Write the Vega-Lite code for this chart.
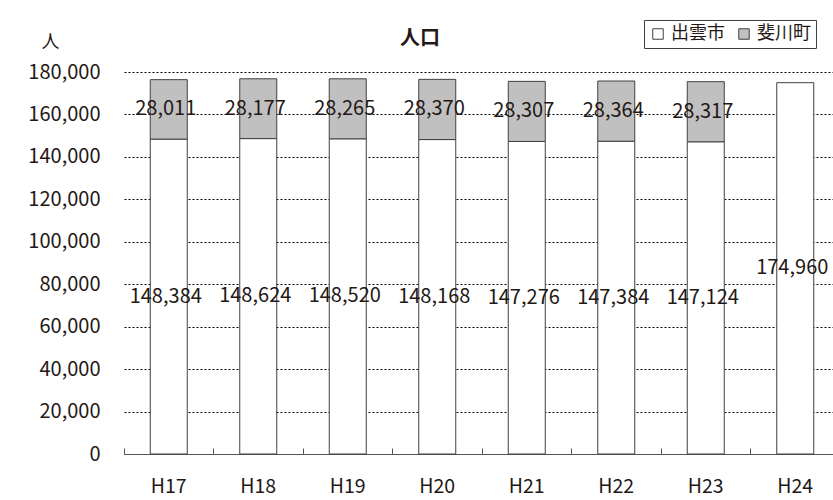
{
  "$schema": "https://vega.github.io/schema/vega-lite/v6.json",
  "width": 716,
  "height": 382,
  "autosize": {"type": "none"},
  "padding": {"left": 124, "top": 72, "right": 0, "bottom": 46},
  "background": "white",
  "title": {"text": "人口", "fontSize": 20, "fontWeight": "bold", "font": "Noto Sans CJK JP", "anchor": "middle", "frame": "group", "dx": -62, "dy": 74, "offset": 35, "baseline": "middle", "color": "#231815"},
  "config": {
    "font": "Noto Sans CJK JP",
    "numberFormat": ",.0f",
    "view": {"stroke": null},
    "axis": {"labelColor": "#231815", "titleColor": "#231815", "labelFont": "Noto Sans CJK JP", "titleFont": "Noto Sans CJK JP"},
    "legend": {"labelFont": "Noto Sans CJK JP", "labelColor": "#231815"}
  },
  "data": {
    "values": [
      {"yr": "H17", "town": "出雲市", "v": 148384},
      {"yr": "H17", "town": "斐川町", "v": 28011},
      {"yr": "H18", "town": "出雲市", "v": 148624},
      {"yr": "H18", "town": "斐川町", "v": 28177},
      {"yr": "H19", "town": "出雲市", "v": 148520},
      {"yr": "H19", "town": "斐川町", "v": 28265},
      {"yr": "H20", "town": "出雲市", "v": 148168},
      {"yr": "H20", "town": "斐川町", "v": 28370},
      {"yr": "H21", "town": "出雲市", "v": 147276},
      {"yr": "H21", "town": "斐川町", "v": 28307},
      {"yr": "H22", "town": "出雲市", "v": 147384},
      {"yr": "H22", "town": "斐川町", "v": 28364},
      {"yr": "H23", "town": "出雲市", "v": 147124},
      {"yr": "H23", "town": "斐川町", "v": 28317},
      {"yr": "H24", "town": "出雲市", "v": 174960}
    ]
  },
  "layer": [
    {
      "mark": {"type": "bar", "size": 37, "stroke": "#404040", "strokeWidth": 1},
      "encoding": {
        "x": {
          "field": "yr", "type": "nominal",
          "scale": {"paddingInner": 0, "paddingOuter": 0},
          "axis": {"orient": "bottom", "ticks": false, "domain": false, "labelPadding": 23, "labelFontSize": 19.5, "labelAngle": 0, "title": null, "grid": false}
        },
        "y": {
          "field": "v", "type": "quantitative",
          "scale": {"domain": [0, 180000]},
          "axis": {
            "values": [0, 20000, 40000, 60000, 80000, 100000, 120000, 140000, 160000, 180000],
            "format": ",.0f", "domain": false, "ticks": false, "labelPadding": 24, "labelFontSize": 20,
            "grid": true, "gridDash": [2, 2], "gridColor": "#000000", "gridWidth": 1, "gridOpacity": 1,
            "title": "人", "titleAngle": 0, "titleX": -74, "titleY": -30, "titleAlign": "center", "titleBaseline": "middle", "titleFontSize": 18, "titleFontWeight": "normal"
          }
        },
        "color": {
          "field": "town", "type": "nominal",
          "scale": {"domain": ["出雲市", "斐川町"], "range": ["#ffffff", "#c0c0c0"]},
          "legend": {"orient": "none", "legendX": 520, "legendY": -52, "direction": "horizontal", "title": null, "strokeColor": "#404040", "fillColor": "white", "padding": 5, "symbolType": "square", "symbolSize": 110, "symbolStrokeColor": "#404040", "symbolStrokeWidth": 1, "labelFontSize": 18, "labelOffset": 4, "columnPadding": 10}
        },
        "order": {"field": "town", "sort": "ascending"}
      }
    },
    {
      "mark": {"type": "text", "fontSize": 20, "color": "#231815", "dx": -3},
      "encoding": {
        "x": {
          "field": "yr", "type": "nominal",
          "axis": {"orient": "bottom", "labels": false, "ticks": true, "tickSize": -6, "bandPosition": 0, "domain": true, "domainColor": "#555555", "tickColor": "#555555", "title": null, "grid": false}
        },
        "y": {
          "field": "v", "type": "quantitative", "stack": "zero", "bandPosition": 0.5,
          "axis": {
            "values": [0, 20000, 40000, 60000, 80000, 100000, 120000, 140000, 160000, 180000],
            "format": ",.0f", "domain": false, "ticks": false, "labelPadding": 24, "labelFontSize": 20,
            "grid": true, "gridDash": [2, 2], "gridColor": "#000000", "gridWidth": 1, "gridOpacity": 1,
            "title": "人", "titleAngle": 0, "titleX": -74, "titleY": -30, "titleAlign": "center", "titleBaseline": "middle", "titleFontSize": 18, "titleFontWeight": "normal"
          }
        },
        "detail": {"field": "town"},
        "order": {"field": "town", "sort": "ascending"},
        "text": {"field": "v", "format": ","}
      }
    }
  ],
  "resolve": {"axis": {"x": "independent"}}
}
